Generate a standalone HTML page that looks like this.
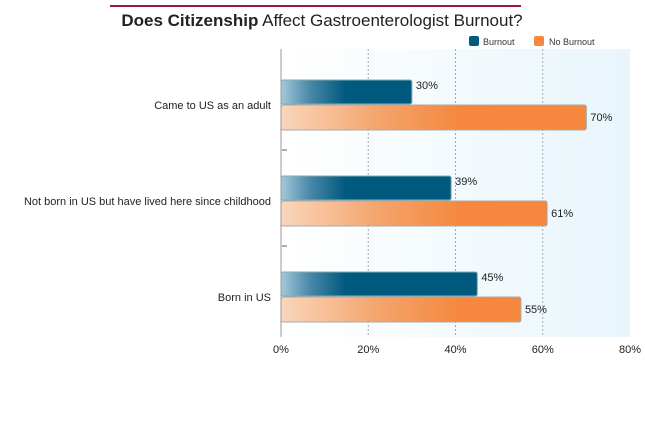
<!DOCTYPE html>
<html><head><meta charset="utf-8"><style>
body{margin:0;background:#fff;font-family:"Liberation Sans",sans-serif}
svg text{font-family:"Liberation Sans",sans-serif}
</style></head><body>
<svg width="645" height="439" xmlns="http://www.w3.org/2000/svg">
<defs>
<linearGradient id="bg" x1="0" x2="1" y1="0" y2="0"><stop offset="0" stop-color="#ffffff"/><stop offset="1" stop-color="#e8f5fc"/></linearGradient>
<linearGradient id="gb" gradientUnits="userSpaceOnUse" x1="281" x2="345" y1="0" y2="0"><stop offset="0" stop-color="#a3c9dc"/><stop offset="0.45" stop-color="#4a88a8"/><stop offset="1" stop-color="#005a80"/></linearGradient>
<linearGradient id="go" gradientUnits="userSpaceOnUse" x1="281" x2="460" y1="0" y2="0"><stop offset="0" stop-color="#f9d6bd"/><stop offset="0.55" stop-color="#f4a46c"/><stop offset="1" stop-color="#f5883e"/></linearGradient>
</defs>
<line x1="110" y1="6" x2="521" y2="6" stroke="#9b1b3a" stroke-width="2"/>
<text x="322" y="26" text-anchor="middle" font-size="17" fill="#222"><tspan font-weight="bold">Does Citizenship</tspan> Affect Gastroenterologist Burnout?</text>
<g>
<rect x="469" y="36" width="10" height="10" rx="2" fill="#005a80"/>
<text x="483" y="45" font-size="9" fill="#333">Burnout</text>
<rect x="534" y="36" width="10" height="10" rx="2" fill="#f5883e"/>
<text x="549" y="45" font-size="9" fill="#333">No Burnout</text>
</g>
<rect x="281" y="49" width="349" height="288" fill="url(#bg)"/>
<g id="grid"></g>
<g id="bars"></g>
<line x1="281" y1="49" x2="281" y2="337" stroke="#999"/>
</svg>
<script>
const categories=["Came to US as an adult","Not born in US but have lived here since childhood","Born in US"];
const burnout=[30,39,45];
const noBurnout=[70,61,55];
const ticks=[0,20,40,60,80];
const NS="http://www.w3.org/2000/svg";
const svgEl=document.querySelector('svg');
const x0=281,x1=630,yTop=49,yBot=337;
const xs=v=>x0+(v/80)*(x1-x0);
const band=(yBot-yTop)/categories.length;
const grid=document.getElementById('grid'),bars=document.getElementById('bars');
function mk(t,a,p){const e=document.createElementNS(NS,t);for(const k in a)e.setAttribute(k,a[k]);(p||svgEl).appendChild(e);return e;}
ticks.forEach(t=>{
 if(t>0&&t<80){const l=mk('line',{x1:xs(t),x2:xs(t),y1:yTop,y2:yBot,stroke:'#aaa','stroke-dasharray':'2,2'},grid);
 
 }
 const tx=mk('text',{x:xs(t),y:yBot+16,'text-anchor':'middle','font-size':11,fill:'#222'});
 tx.textContent=t+'%';
 
 
});
categories.forEach((c,i)=>{
 const cy=yTop+band*(i+0.5)+8;
 if(i>0){const tk=mk('line',{x1:282,x2:287,y1:yTop+band*i+5,y2:yTop+band*i+5,stroke:'#555'});
 
 }
 const lab=mk('text',{x:271,y:cy+4,'text-anchor':'end','font-size':11,fill:'#222'});
 lab.textContent=c;
 
 
 const b=mk('rect',{x:x0,y:cy-25,width:xs(burnout[i])-x0,height:24,rx:2,fill:'url(#gb)',stroke:'#8aa',"stroke-width":1},bars);
 
 
 const o=mk('rect',{x:x0,y:cy,width:xs(noBurnout[i])-x0,height:25,rx:2,fill:'url(#go)',stroke:'#aaa',"stroke-width":1},bars);
 
 
 const bl=mk('text',{x:xs(burnout[i])+4,y:cy-16,'font-size':11,fill:'#222'});
 bl.textContent=burnout[i]+'%';
 
 
 const ol=mk('text',{x:xs(noBurnout[i])+4,y:cy+16,'font-size':11,fill:'#222'});
 ol.textContent=noBurnout[i]+'%';
 
 
});
</script>
</body></html>
